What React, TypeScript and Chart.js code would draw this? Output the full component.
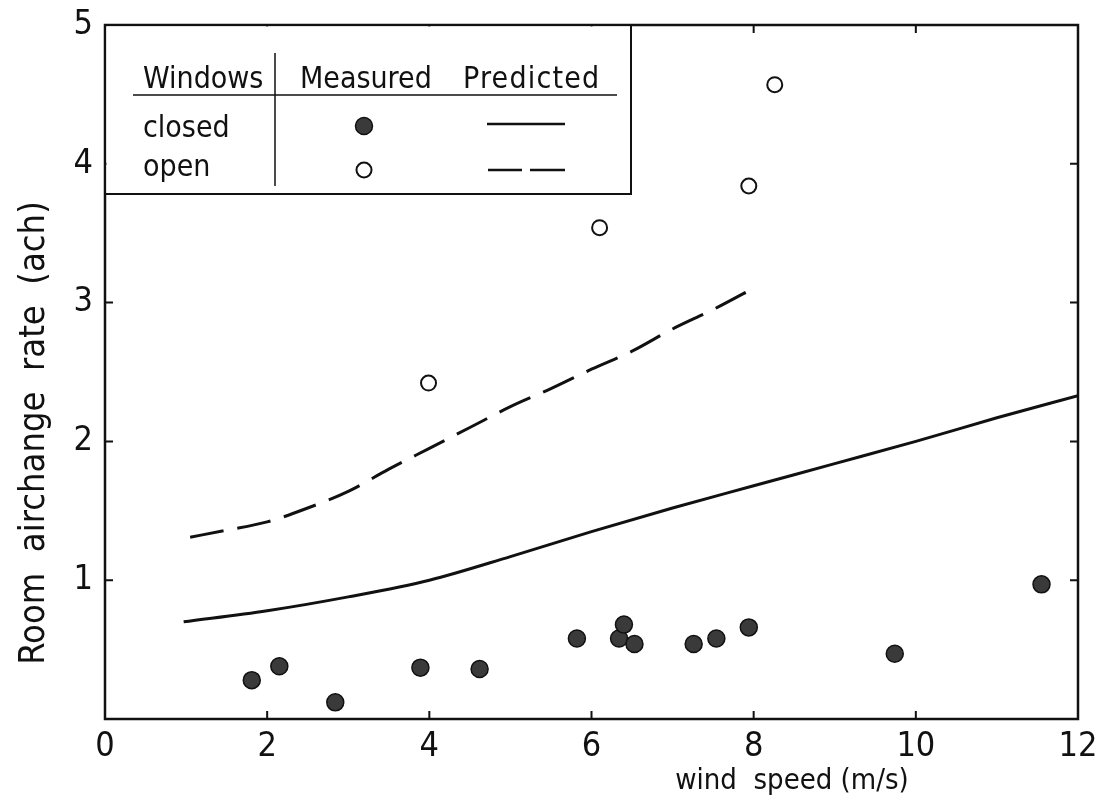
import React, { useEffect, useRef } from "react";
import { Chart, registerables } from "chart.js";

Chart.register(...registerables);

const FONT = "'DejaVu Sans Condensed', 'Liberation Sans Narrow', 'DejaVu Sans', sans-serif";

// Measured, windows closed
const closedX = [1.81, 2.15, 2.84, 3.89, 4.62, 5.82, 6.34, 6.40, 6.53, 7.26, 7.54, 7.94, 9.74, 11.55];
const closedY = [0.28, 0.38, 0.12, 0.37, 0.36, 0.58, 0.58, 0.68, 0.54, 0.54, 0.58, 0.66, 0.47, 0.97];

// Measured, windows open
const openX = [3.99, 6.10, 7.94, 8.26];
const openY = [2.42, 3.54, 3.84, 4.57];

// Predicted, windows closed (solid)
const predClosedX = [0.97, 2, 3, 4, 5, 6, 7, 8, 9, 10, 11, 12];
const predClosedY = [0.70, 0.78, 0.88, 1.0, 1.17, 1.35, 1.52, 1.68, 1.84, 2.0, 2.17, 2.33];

// Predicted, windows open (dashed)
const predOpenX = [1.05, 1.5, 2, 2.5, 3, 3.5, 4, 4.5, 5, 5.5, 6, 6.5, 7, 7.5, 8.05];
const predOpenY = [1.31, 1.36, 1.42, 1.52, 1.64, 1.80, 1.95, 2.10, 2.25, 2.38, 2.52, 2.65, 2.81, 2.95, 3.12];

const xTicks = [0, 2, 4, 6, 8, 10, 12];
const yTicks = [1, 2, 3, 4, 5];

const legendHeader = ["Windows", "Measured", "Predicted"];
const legendRows = ["closed", "open"];
const xTitle = "wind  speed (m/s)";
const yTitle = "Room  airchange  rate  (ach)";

const INK = "#111";

const framePlugin = {
  id: "frame",
  afterDraw(chart: any) {
    const { ctx, chartArea: a, scales } = chart;
    const xs = scales.x;
    const ys = scales.y;
    ctx.save();
    ctx.strokeStyle = INK;
    ctx.lineWidth = 2.5;
    ctx.strokeRect(a.left, a.top, a.right - a.left, a.bottom - a.top);
    // inward ticks
    ctx.lineWidth = 2;
    const tl = 8;
    xTicks.forEach((v) => {
      if (v === 0 || v === 12) return;
      const px = xs.getPixelForValue(v);
      ctx.beginPath();
      ctx.moveTo(px, a.bottom);
      ctx.lineTo(px, a.bottom - tl);
      ctx.moveTo(px, a.top);
      ctx.lineTo(px, a.top + tl);
      ctx.stroke();
    });
    yTicks.forEach((v) => {
      if (v === 5) return;
      const py = ys.getPixelForValue(v);
      ctx.beginPath();
      ctx.moveTo(a.left, py);
      ctx.lineTo(a.left + tl, py);
      ctx.moveTo(a.right, py);
      ctx.lineTo(a.right - tl, py);
      ctx.stroke();
    });

    // axis titles
    ctx.fillStyle = INK;
    ctx.font = `29px ${FONT}`;
    ctx.textAlign = "center";
    ctx.textBaseline = "alphabetic";
    ctx.fillText(xTitle, 792, 789);
    ctx.save();
    ctx.translate(44, 433);
    ctx.rotate(-Math.PI / 2);
    ctx.font = `36px ${FONT}`;
    ctx.fillText(yTitle, 0, 0);
    ctx.restore();

    // legend table
    const L = a.left;
    const T = a.top;
    const R = 631;
    const B = 194;
    ctx.fillStyle = "#fff";
    ctx.fillRect(L + 1.5, T + 1.5, R - L - 1.5, B - T - 1.5);
    ctx.lineWidth = 2;
    ctx.beginPath();
    ctx.moveTo(R, T);
    ctx.lineTo(R, B);
    ctx.lineTo(L, B);
    ctx.stroke();
    ctx.lineWidth = 1.5;
    ctx.beginPath();
    ctx.moveTo(133, 95);
    ctx.lineTo(617, 95);
    ctx.moveTo(275, 53);
    ctx.lineTo(275, 186);
    ctx.stroke();

    ctx.fillStyle = INK;
    ctx.font = `30px ${FONT}`;
    ctx.textAlign = "left";
    ctx.fillText(legendHeader[0], 143, 88);
    ctx.fillText(legendHeader[1], 300, 88);
    (ctx as any).letterSpacing = "1.2px";
    ctx.fillText(legendHeader[2], 463, 88);
    (ctx as any).letterSpacing = "0px";
    ctx.fillText(legendRows[0], 143, 137);
    ctx.fillText(legendRows[1], 143, 176);

    // symbols
    ctx.beginPath();
    ctx.arc(364, 126, 8.5, 0, Math.PI * 2);
    ctx.fillStyle = "#3a3a3a";
    ctx.fill();
    ctx.lineWidth = 1.5;
    ctx.strokeStyle = INK;
    ctx.stroke();
    ctx.beginPath();
    ctx.arc(364, 170, 7.5, 0, Math.PI * 2);
    ctx.fillStyle = "#fff";
    ctx.fill();
    ctx.lineWidth = 2;
    ctx.stroke();

    ctx.lineWidth = 2.5;
    ctx.beginPath();
    ctx.moveTo(487, 124);
    ctx.lineTo(565, 124);
    ctx.moveTo(488, 170);
    ctx.lineTo(522, 170);
    ctx.moveTo(530, 170);
    ctx.lineTo(565, 170);
    ctx.stroke();
    ctx.restore();
  },
};

export default function App() {
  const ref = useRef<HTMLCanvasElement | null>(null);
  useEffect(() => {
    if (!ref.current) return;
    const toPts = (xs: number[], ys: number[]) => xs.map((x, i) => ({ x, y: ys[i] }));
    const chart = new Chart(ref.current, {
      type: "scatter",
      data: {
        datasets: [
          {
            label: "closed measured",
            data: toPts(closedX, closedY),
            pointRadius: 8.5,
            pointBackgroundColor: "#3a3a3a",
            pointBorderColor: INK,
            pointBorderWidth: 1.5,
            showLine: false,
          },
          {
            label: "open measured",
            data: toPts(openX, openY),
            pointRadius: 7.5,
            pointBackgroundColor: "#fff",
            pointBorderColor: INK,
            pointBorderWidth: 2,
            showLine: false,
          },
          {
            label: "closed predicted",
            data: toPts(predClosedX, predClosedY),
            showLine: true,
            pointRadius: 0,
            borderColor: INK,
            borderWidth: 3,
            tension: 0.4,
            cubicInterpolationMode: "monotone",
            fill: false,
          },
          {
            label: "open predicted",
            data: toPts(predOpenX, predOpenY),
            showLine: true,
            pointRadius: 0,
            borderColor: INK,
            borderWidth: 3,
            borderDash: [34, 14],
            tension: 0.4,
            cubicInterpolationMode: "monotone",
            fill: false,
          },
        ],
      } as any,
      options: {
        animation: false,
        responsive: false,
        devicePixelRatio: 1,
        layout: { padding: { top: 25, right: 20, left: 0, bottom: 0 } },
        plugins: { legend: { display: false }, tooltip: { enabled: false } },
        scales: {
          x: {
            type: "linear",
            min: 0,
            max: 12,
            afterBuildTicks: (s: any) => {
              s.ticks = xTicks.map((v) => ({ value: v }));
            },
            afterFit: (s: any) => {
              s.height = 81;
              s.paddingLeft = 0;
              s.paddingRight = 0;
            },
            ticks: { color: INK, font: { family: FONT, size: 34 }, padding: 8, maxRotation: 0, autoSkip: false },
            grid: { display: false, drawTicks: false },
            border: { display: false },
          },
          y: {
            type: "linear",
            min: 0,
            max: 5,
            afterBuildTicks: (s: any) => {
              s.ticks = yTicks.map((v) => ({ value: v }));
            },
            afterFit: (s: any) => {
              s.width = 105;
              s.paddingTop = 0;
              s.paddingBottom = 0;
            },
            ticks: { color: INK, font: { family: FONT, size: 34 }, padding: 12 },
            grid: { display: false, drawTicks: false },
            border: { display: false },
          },
        },
      },
      plugins: [framePlugin],
    });
    return () => chart.destroy();
  }, []);
  return (
    <div style={{ position: "fixed", left: 0, top: 0, width: 1098, height: 800, background: "#fff" }}>
      <canvas ref={ref} width={1098} height={800} style={{ display: "block" }} />
    </div>
  );
}
